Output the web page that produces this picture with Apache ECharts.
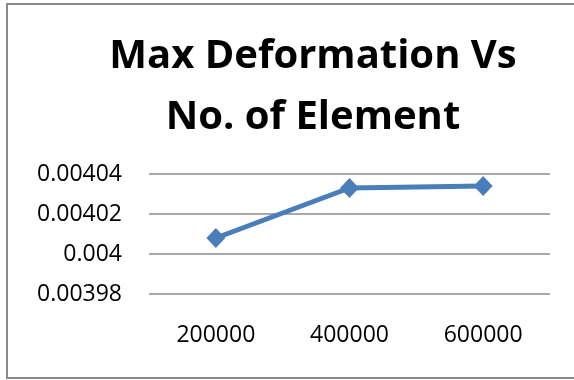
<!DOCTYPE html>
<html>
<head>
<meta charset="utf-8">
<script src="https://cdn.jsdelivr.net/npm/echarts@6/dist/echarts.min.js"></script>
<style>
  html, body { margin: 0; padding: 0; background: #ffffff; }
  #chart { width: 574px; height: 380px; }
</style>
</head>
<body>
<div id="chart"></div>
<script>
// Number of elements in the mesh
const elementCounts = ['200000', '400000', '600000'];
// Maximum deformation for each mesh
const maxDeformation = [0.004008, 0.004033, 0.004034];
// Value axis range and step
const yMin = 0.00398;
const yMax = 0.00404;
const yStep = 0.00002;

const chart = echarts.init(document.getElementById('chart'), null, { renderer: 'canvas' });

chart.setOption({
  backgroundColor: '#ffffff',
  animation: false,
  graphic: [{
    type: 'rect',
    silent: true,
    shape: { x: 7, y: 4, width: 600, height: 374 },
    style: { fill: 'none', stroke: '#8a8a8a', lineWidth: 2 }
  }],
  title: {
    text: 'Max Deformation Vs\nNo. of Element',
    left: 308,
    top: 21,
    textAlign: 'center',
    textStyle: {
      fontFamily: 'Open Sans',
      fontWeight: 'bold',
      fontSize: 40,
      lineHeight: 61,
      color: '#000000'
    }
  },
  grid: { left: 149, right: 24, top: 174, bottom: 86 },
  xAxis: {
    type: 'category',
    data: elementCounts,
    boundaryGap: true,
    axisLine: { show: false },
    axisTick: { show: false },
    axisLabel: {
      margin: 30,
      fontFamily: 'Open Sans',
      fontSize: 23,
      color: '#000000'
    }
  },
  yAxis: {
    type: 'value',
    min: yMin,
    max: yMax,
    interval: yStep,
    axisLine: { show: false },
    axisTick: { show: false },
    splitLine: { lineStyle: { color: '#8c8c8c', width: 1.5 } },
    axisLabel: {
      margin: 27,
      fontFamily: 'Open Sans',
      fontSize: 23,
      color: '#000000',
      formatter: v => String(parseFloat(v.toFixed(6)))
    }
  },
  series: [{
    type: 'line',
    data: maxDeformation,
    symbol: 'diamond',
    symbolSize: [19, 20],
    lineStyle: { color: '#4a7ebb', width: 5 },
    itemStyle: { color: '#4a7ebb' }
  }]
});
</script>
</body>
</html>
